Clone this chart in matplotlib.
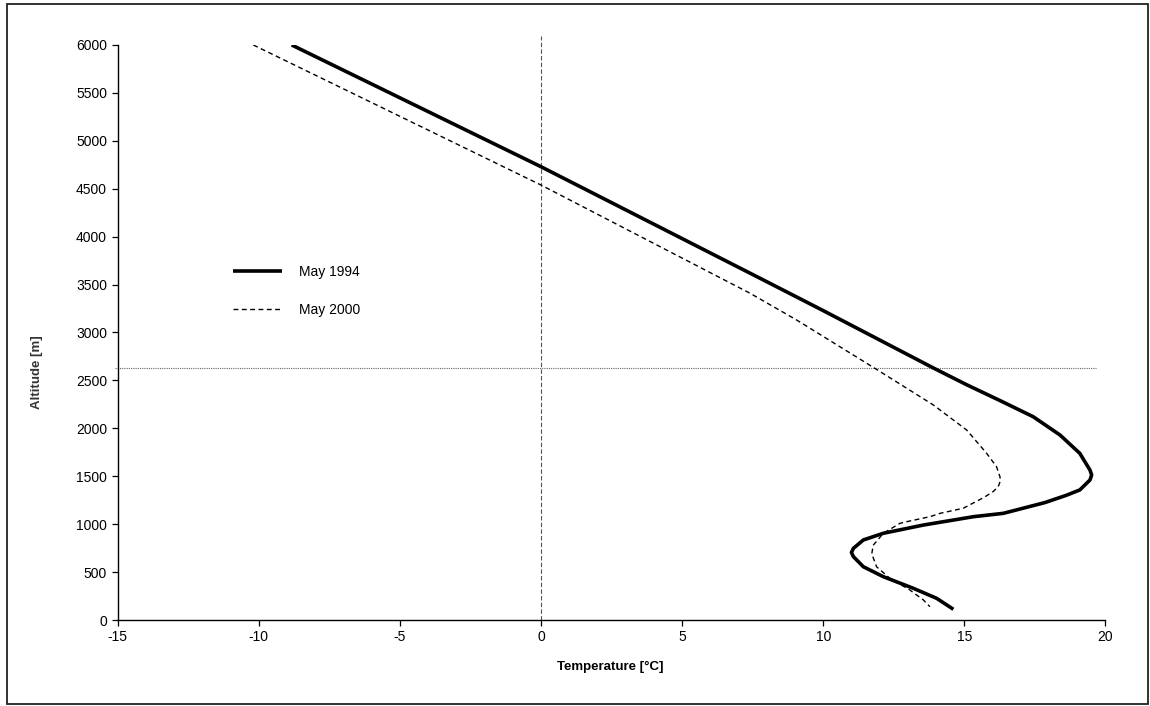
import matplotlib
matplotlib.use("Agg")
import matplotlib.pyplot as plt
from matplotlib.patches import Rectangle

# May 1994 profile (temperature in degC, altitude in m)
t_1994 = [-8.83, 0.0, 7.88, 9.89, 13.9, 15.08, 16.26, 17.44, 18.39, 19.09,
          19.45, 19.51, 19.45, 19.09, 18.6, 17.85, 16.38, 15.32, 14.61, 13.55,
          12.13, 11.42, 11.07, 11.0, 11.07, 11.42, 12.13, 13.19, 14.02, 14.61]
z_1994 = [6000, 4730, 3548, 3245, 2630, 2455, 2290, 2121, 1930, 1739,
          1565, 1513, 1461, 1357, 1300, 1225, 1113, 1078, 1043, 991,
          905, 835, 748, 705, 661, 556, 452, 331, 226, 112]

# May 2000 profile
t_2000 = [-10.19, 0.0, 7.41, 9.06, 11.83, 12.72, 13.9, 15.08, 15.79, 16.14,
          16.26, 16.28, 16.2, 16.02, 15.7, 14.96, 14.14, 13.78, 12.96, 12.72,
          12.13, 11.77, 11.72, 11.89, 12.36, 13.07, 13.55, 13.78]
z_2000 = [6000, 4539, 3409, 3130, 2626, 2462, 2244, 1983, 1739, 1600,
          1496, 1455, 1391, 1340, 1280, 1166, 1113, 1078, 1026, 1009,
          905, 780, 690, 556, 435, 313, 209, 139]

ref_altitude = 2626
x_ticks = [-15, -10, -5, 0, 5, 10, 15, 20]
y_ticks = list(range(0, 6001, 500))

plt.rcParams["font.family"] = ["Liberation Sans", "DejaVu Sans"]
plt.rcParams["axes.unicode_minus"] = False

fig = plt.figure(figsize=(11.5, 7.06), dpi=100)
ax = fig.add_axes([0.1022, 0.1218, 0.8591, 0.8145])

ax.plot(t_1994, z_1994, color="black", lw=2.6, label="May 1994",
        solid_capstyle="butt", solid_joinstyle="round", zorder=3)
ax.plot(t_2000, z_2000, color="black", lw=1.0, ls=(0, (3.5, 2.5)),
        dash_joinstyle="round", label="May 2000", zorder=3)

# reference lines
ax.plot([0, 0], [0, 6094], color="#555555", lw=0.8, ls=(0, (4, 2)),
        clip_on=False, zorder=2)
ax.plot([-15.1, 19.65], [ref_altitude, ref_altitude], color="#666666",
        lw=0.8, ls=(0, (1, 1)), clip_on=False, zorder=2)

ax.set_xlim(-15, 20)
ax.set_ylim(0, 6000)
ax.set_xticks(x_ticks)
ax.set_yticks(y_ticks)
ax.tick_params(labelsize=10, length=4, width=0.9, direction="out")
for s in ["top", "right"]:
    ax.spines[s].set_visible(False)
for s in ["left", "bottom"]:
    ax.spines[s].set_linewidth(1.0)

fig.text(0.5304, 1 - 667 / 706, "Temperature [°C]", ha="center", va="center",
         fontsize=9.5, fontweight="bold")
fig.text(37 / 1150, 1 - 372 / 706, "Altitude [m]", ha="center", va="center",
         rotation=90, fontsize=9.5, fontweight="bold", color="#333333")

ax.legend(loc="center left", bbox_to_anchor=(233 / 1150, 1 - 291 / 706),
          bbox_transform=fig.transFigure, frameon=False, fontsize=10,
          handlelength=3.5, handletextpad=1.25, labelspacing=1.7,
          borderpad=0, borderaxespad=0)

# outer frame around the whole chart
fig.patches.append(Rectangle((7 / 1150, 2 / 706), 1141 / 1150, 700 / 706,
                             transform=fig.transFigure, fill=False,
                             edgecolor="#222222", lw=1.3))

fig.savefig("out.png", dpi=100)
